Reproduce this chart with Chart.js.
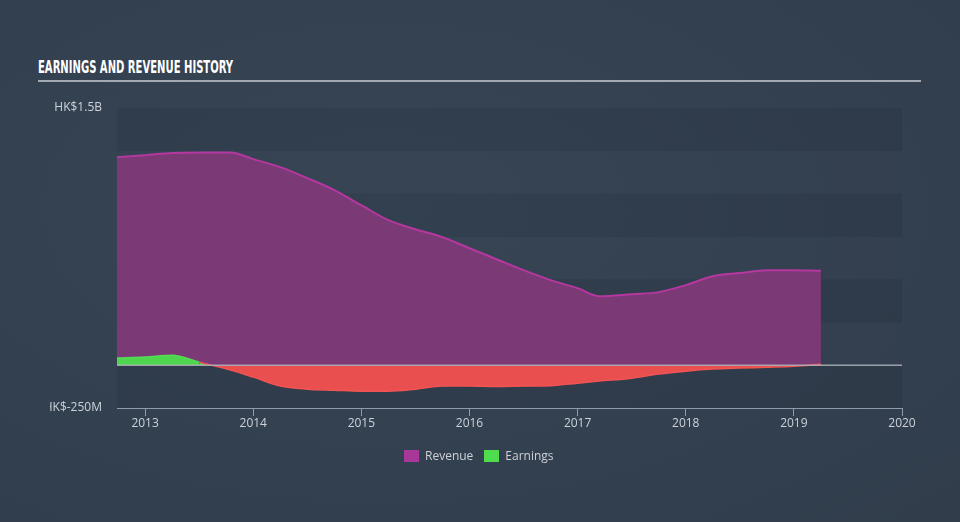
<!DOCTYPE html>
<html>
<head>
<meta charset="utf-8">
<script src="https://cdn.jsdelivr.net/npm/chart.js@4/dist/chart.umd.min.js"></script>
<style>
  html, body { margin: 0; padding: 0; }
  body { width: 960px; height: 522px; background: radial-gradient(ellipse at 40% 40%, #374555 0%, #334050 60%, #313d4b 100%); position: relative; overflow: hidden; font-family: "Open Sans", sans-serif; }
  #title { position: absolute; left: 38px; top: 56px; color: #ffffff; font-family: "DejaVu Sans Condensed", "Liberation Sans Narrow", sans-serif; font-weight: bold; font-size: 18px; white-space: nowrap; transform-origin: 0 0; transform: scaleX(0.62); }
  #rule { position: absolute; left: 38px; top: 80px; width: 883px; height: 2px; background: #a3a9b1; }
  #cv { position: absolute; left: 50px; top: 0; }
  #legend { position: absolute; top: 447px; left: 404px; display: flex; align-items: center; font-size: 12px; color: #cdd2d8; }
  .sw { width: 15px; height: 12px; display: inline-block; margin-right: 6px; }
  .item { display: flex; align-items: center; margin-right: 11px; }
</style>
</head>
<body>
<div id="title">EARNINGS AND REVENUE HISTORY</div>
<div id="rule"></div>
<canvas id="cv" width="910" height="522"></canvas>
<div id="legend">
  <div class="item"><span class="sw" style="background:#a8379a"></span>Revenue</div>
  <div class="item"><span class="sw" style="background:#4fdc4f"></span>Earnings</div>
</div>
<script>
// Dates as decimal years
const dates = [2012.74, 2013.0, 2013.25, 2013.5, 2013.79, 2014.0, 2014.25, 2014.5, 2014.75, 2015.0, 2015.25, 2015.5, 2015.75, 2016.0, 2016.25, 2016.5, 2016.75, 2017.0, 2017.2, 2017.5, 2017.75, 2018.0, 2018.25, 2018.5, 2018.75, 2019.0, 2019.25];
// Revenue in HK$ millions
const revenue = [1213, 1225, 1237, 1240, 1240, 1202, 1155, 1091, 1021, 933, 846, 793, 747, 682, 618, 554, 496, 449, 402, 414, 426, 467, 519, 537, 554, 554, 551];
// Earnings in HK$ millions
const earnings = [41, 47, 58, 17, -29, -70, -122, -140, -146, -152, -152, -140, -122, -122, -125, -122, -120, -105, -93, -76, -52, -35, -23, -17, -12, -6, 5];
const yTicks = [-250, 1500];
const yTickLabels = ['HK$-250M', 'HK$1.5B'];
const xTicks = [2013, 2014, 2015, 2016, 2017, 2018, 2019, 2020];

const revData = dates.map((d, i) => ({x: d, y: revenue[i]}));
const earnData = dates.map((d, i) => ({x: d, y: earnings[i]}));

const bandsPlugin = {
  id: 'bands',
  beforeDatasetsDraw(chart) {
    const {ctx, chartArea: a, scales: {y}} = chart;
    ctx.save();
    for (let v = -250; v < 1500; v += 250) {
      const idx = Math.round((v + 250) / 250);
      const top = y.getPixelForValue(v + 250), bot = y.getPixelForValue(v);
      ctx.fillStyle = (idx % 2 === 0) ? 'rgba(20,30,42,0.13)' : 'rgba(60,75,92,0.06)';
      ctx.fillRect(a.left, top, a.right - a.left, bot - top);
    }
    ctx.restore();
  },
  afterDatasetsDraw(chart) {
    const {ctx, chartArea: a, scales: {y}} = chart;
    const z = y.getPixelForValue(0);
    ctx.save();
    ctx.strokeStyle = 'rgba(175,180,188,0.85)';
    ctx.lineWidth = 1.5;
    ctx.beginPath();
    ctx.moveTo(a.left, z);
    ctx.lineTo(a.right, z);
    ctx.stroke();
    ctx.restore();
  }
};

new Chart(document.getElementById('cv'), {
  type: 'line',
  data: {
    datasets: [
      {
        label: 'Revenue', data: revData, order: 1,
        borderColor: '#b4389f', borderWidth: 2,
        backgroundColor: 'rgba(123,57,117,1)',
        fill: 'origin', pointRadius: 0, cubicInterpolationMode: 'monotone'
      },
      {
        label: 'Earnings', data: earnData, order: 0,
        borderWidth: 1.5,
        borderColor: '#ee5050',
        segment: { borderColor: c => (c.p0.parsed.y >= 0 && c.p1.parsed.y >= 0) ? '#55dc55' : '#f25454' },
        fill: { target: 'origin', above: '#4fd64f', below: '#e94f4f' },
        pointRadius: 0, cubicInterpolationMode: 'monotone'
      }
    ]
  },
  options: {
    responsive: false,
    devicePixelRatio: 1,
    animation: false,
    layout: { padding: { top: 108, right: 58, bottom: 0, left: 0 } },
    plugins: { legend: { display: false }, tooltip: { enabled: false } },
    scales: {
      x: {
        type: 'linear', min: 2012.74, max: 2020,
        afterFit: s => { s.height = 114; },
        afterBuildTicks: s => { s.ticks = xTicks.map(v => ({value: v})); },
        border: { display: true, color: '#8e9bab', width: 1 },
        grid: { drawOnChartArea: false, drawTicks: true, tickLength: 8, color: '#8e9bab' },
        ticks: { color: '#cdd2d8', font: { family: 'Open Sans', size: 12 }, padding: 0, maxRotation: 0, callback: v => String(v) }
      },
      y: {
        min: -250, max: 1500,
        afterFit: s => { s.width = 67; },
        afterBuildTicks: s => { s.ticks = yTicks.map(v => ({value: v})); },
        border: { display: false },
        grid: { display: false, drawTicks: false },
        ticks: { color: '#cdd2d8', font: { family: 'Open Sans', size: 12 }, padding: 15,
          callback: v => yTickLabels[yTicks.indexOf(v)] }
      }
    }
  },
  plugins: [bandsPlugin]
});
</script>
</body>
</html>
